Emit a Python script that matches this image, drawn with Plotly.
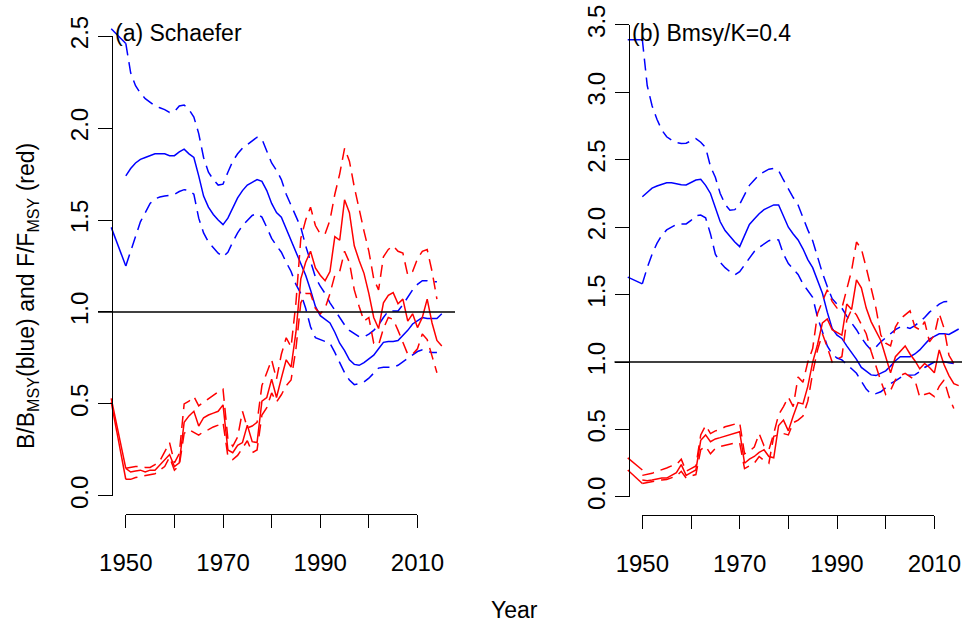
import plotly.graph_objects as go

# ---------------------------------------------------------------- data
years = list(range(1950, 2016))
lead_years = [1947, 1950]

# (a) Schaefer
b_mid_a = [1.74, 1.78, 1.81, 1.83, 1.84, 1.85, 1.86, 1.86, 1.86, 1.85,
           1.85, 1.87, 1.885, 1.86, 1.84, 1.74, 1.63, 1.57, 1.53, 1.50,
           1.475, 1.51, 1.57, 1.62, 1.66, 1.69, 1.705, 1.72, 1.71, 1.66,
           1.59, 1.54, 1.515, 1.45, 1.39, 1.33, 1.26, 1.20, 1.12, 1.03,
           0.98, 0.96, 0.94, 0.89, 0.83, 0.79, 0.74, 0.715, 0.71, 0.725,
           0.745, 0.765, 0.80, 0.835, 0.84, 0.84, 0.845, 0.87, 0.90, 0.935,
           0.955, 0.97, 0.965, 0.965, 0.965, 0.99]
b_hi_a = [2.46, 2.30, 2.23, 2.19, 2.16, 2.14, 2.12, 2.11, 2.10, 2.085,
          2.09, 2.12, 2.125, 2.10, 2.06, 1.97, 1.84, 1.76, 1.72, 1.69,
          1.695, 1.76, 1.82, 1.86, 1.89, 1.91, 1.93, 1.95, 1.94, 1.87,
          1.81, 1.77, 1.72, 1.64, 1.58, 1.51, 1.46, 1.36, 1.27, 1.19,
          1.14, 1.10, 1.05, 1.01, 0.97, 0.93, 0.90, 0.88, 0.865, 0.865,
          0.88, 0.90, 0.93, 0.97, 1.005, 1.005, 1.005, 1.04, 1.08, 1.12,
          1.15, 1.17, 1.17, 1.165, 1.165, None]
b_lo_a = [1.25, 1.33, 1.42, 1.49, 1.54, 1.59, 1.615, 1.625, 1.63, 1.633,
          1.64, 1.655, 1.665, 1.66, 1.64, 1.51, 1.43, 1.38, 1.35, 1.32,
          1.30, 1.325, 1.38, 1.43, 1.47, 1.50, 1.525, 1.534, 1.516, 1.46,
          1.40, 1.36, 1.325, 1.27, 1.22, 1.15, 1.10, 1.02, 0.92, 0.86,
          0.85, 0.84, 0.83, 0.78, 0.72, 0.67, 0.63, 0.605, 0.61, 0.62,
          0.64, 0.665, 0.695, 0.70, 0.70, 0.70, 0.71, 0.73, 0.75, 0.77,
          0.785, 0.795, 0.785, 0.78, 0.78, None]
f_mid_a = [0.15, 0.13, 0.135, 0.14, 0.13, 0.14, 0.14, 0.17, 0.195, 0.225,
           0.16, 0.18, 0.40, 0.435, 0.46, 0.38, 0.425, 0.44, 0.45, 0.46,
           0.495, 0.25, 0.235, 0.275, 0.29, 0.385, 0.295, 0.29, 0.515, 0.535,
           0.635, 0.535, 0.64, 0.74, 0.70, 0.89, 1.18, 1.27, 1.33, 1.24,
           1.20, 1.17, 1.22, 1.41, 1.39, 1.61, 1.54, 1.36, 1.28, 1.21,
           1.10, 0.97, 0.91, 1.05, 1.09, 1.105, 1.045, 1.07, 0.95, 0.99,
           0.915, 0.97, 1.07, 0.94, 0.845, 0.815]
f_hi_a = [0.15, 0.155, 0.16, 0.16, 0.155, 0.155, 0.17, 0.19, 0.24, 0.29,
          0.18, 0.23, 0.50, 0.515, 0.54, 0.49, 0.51, 0.53, 0.55, 0.565,
          0.58, 0.31, 0.27, 0.32, 0.46, 0.37, 0.38, 0.40, 0.60, 0.67,
          0.74, 0.635, 0.77, 0.86, 0.81, 1.05, 1.40, 1.50, 1.57, 1.47,
          1.425, 1.425, 1.50, 1.64, 1.75, 1.89, 1.82, 1.68, 1.55, 1.44,
          1.33, 1.18, 1.12, 1.30, 1.34, 1.36, 1.33, 1.32, 1.20, 1.22,
          1.29, 1.33, 1.34, 1.22, 1.07, None]
f_lo_a = [0.09, 0.09, 0.10, 0.105, 0.11, 0.115, 0.12, 0.14, 0.16, 0.21,
          0.14, 0.165, 0.34, 0.36, 0.345, 0.33, 0.35, 0.36, 0.375, 0.385,
          0.40, 0.215, 0.197, 0.22, 0.26, 0.30, 0.235, 0.25, 0.44, 0.48,
          0.56, 0.51, 0.55, 0.60, 0.63, 0.80, 1.05, 1.10, 1.10, 1.02,
          0.99, 1.02, 1.10, 1.20, 1.22, 1.33, 1.27, 1.12, 1.03, 0.95,
          0.97, 0.83, 0.82, 0.91, 0.97, 0.96, 0.90, 0.83, 0.77, 0.77,
          0.80, 0.88, 0.85, 0.76, 0.67, None]
b_lead_a = [1.46, 1.25]
b_hi_lead_a = [2.54, 2.46]
f_lead1_a = [0.53, 0.15]
f_lead2_a = [0.51, 0.09]

# (b) Bmsy/K=0.4
b_mid_b = [2.226, 2.26, 2.29, 2.305, 2.315, 2.33, 2.33, 2.32, 2.315, 2.313,
           2.33, 2.35, 2.355, 2.31, 2.25, 2.14, 2.04, 1.975, 1.93, 1.89,
           1.856, 1.94, 2.02, 2.06, 2.10, 2.13, 2.15, 2.165, 2.165, 2.08,
           2.00, 1.95, 1.905, 1.84, 1.76, 1.70, 1.61, 1.51, 1.37, 1.25,
           1.20, 1.175, 1.12, 1.07, 1.02, 0.96, 0.93, 0.905, 0.90, 0.915,
           0.935, 0.97, 1.01, 1.04, 1.04, 1.04, 1.06, 1.09, 1.13, 1.17,
           1.19, 1.21, 1.21, 1.205, 1.225, 1.245]
b_hi_b = [3.39, 3.05, 2.90, 2.80, 2.72, 2.67, 2.645, 2.627, 2.62, 2.622,
          2.64, 2.657, 2.63, 2.59, 2.45, 2.37, 2.25, 2.17, 2.126, 2.13,
          2.17, 2.24, 2.31, 2.35, 2.39, 2.41, 2.43, 2.436, 2.42, 2.35,
          2.28, 2.22, 2.164, 2.07, 1.98, 1.90, 1.78, 1.66, 1.56, 1.47,
          1.43, 1.40, 1.34, 1.29, 1.24, 1.18, 1.13, 1.09, 1.11, 1.15,
          1.18, 1.21, 1.24, 1.26, 1.26, 1.25, 1.27, 1.30, 1.33, 1.37,
          1.40, 1.43, 1.448, 1.45, None, None]
b_lo_b = [1.58, 1.70, 1.80, 1.88, 1.94, 1.98, 2.00, 2.02, 2.024, 2.024,
          2.05, 2.085, 2.09, 2.07, 1.95, 1.80, 1.74, 1.70, 1.67, 1.646,
          1.67, 1.72, 1.77, 1.82, 1.85, 1.875, 1.90, 1.91, 1.905, 1.80,
          1.73, 1.69, 1.65, 1.58, 1.53, 1.48, 1.33, 1.22, 1.12, 1.06,
          1.03, 1.016, 0.98, 0.95, 0.917, 0.86, 0.80, 0.764, 0.766, 0.78,
          0.81, 0.84, 0.86, 0.885, 0.90, 0.90, 0.905, 0.93, 0.96, 0.98,
          1.00, 1.005, 1.003, 0.995, 0.99, None]
f_mid_b = [0.126, 0.12, 0.125, 0.135, 0.14, 0.14, 0.16, 0.18, 0.24, 0.16,
           0.18, 0.20, 0.42, 0.46, 0.41, 0.43, 0.44, 0.45, 0.46, 0.47,
           0.484, 0.25, 0.28, 0.30, 0.33, 0.35, 0.30, 0.29, 0.53, 0.57,
           0.49, 0.60, 0.70, 0.69, 0.82, 1.00, 1.13, 1.29, 1.32, 1.24,
           1.22, 1.20, 1.43, 1.39, 1.61, 1.55, 1.40, 1.30, 1.23, 1.16,
           1.04, 0.92, 1.04, 1.08, 1.12, 1.06, 1.01, 0.95, 0.99, 0.96,
           0.92, 1.09, 0.98, 0.90, 0.84, 0.825]
f_hi_b = [0.16, 0.168, 0.175, 0.19, 0.20, 0.215, 0.23, 0.24, 0.28, 0.19,
          0.21, 0.23, 0.46, 0.53, 0.47, 0.49, 0.50, 0.52, 0.53, 0.54,
          0.55, 0.32, 0.34, 0.37, 0.47, 0.38, 0.35, 0.47, 0.61, 0.67,
          0.74, 0.67, 0.89, 0.85, 1.00, 1.10, 1.36, 1.45, 1.535, 1.45,
          1.40, 1.40, 1.55, 1.68, 1.89, 1.84, 1.70, 1.55, 1.40, 1.20,
          1.14, 1.12, 1.26, 1.32, 1.35, 1.38, 1.26, 1.24, 1.30, 1.15,
          1.20, 1.36, 1.25, 1.05, 0.99, None]
f_lo_b = [0.10, 0.107, 0.115, 0.121, 0.126, 0.13, 0.14, 0.155, 0.19, 0.14,
          0.155, 0.166, 0.35, 0.375, 0.32, 0.36, 0.375, 0.385, 0.39, 0.40,
          0.40, 0.21, 0.23, 0.25, 0.30, 0.27, 0.25, 0.45, 0.46, 0.47,
          0.46, 0.55, 0.57, 0.60, 0.71, 0.92, 1.09, 1.21, 1.11, 1.00,
          1.02, 1.04, 1.31, 1.39, 1.35, 1.28, 1.21, 1.08, 0.966, 0.86,
          0.76, 0.79, 0.87, 0.90, 0.917, 0.89, 0.867, 0.74, 0.76, 0.77,
          0.744, 0.82, 0.867, 0.744, 0.656, None]
b_lead_b = [1.63, 1.58]
b_hi_lead_b = [3.39, 3.39]
f_lead1_b = [0.29, 0.20]
f_lead2_b = [0.20, 0.10]

x_ticks = [1950, 1960, 1970, 1980, 1990, 2000, 2010]
x_label_ticks = [1950, 1970, 1990, 2010]
y_ticks_a = [0.0, 0.5, 1.0, 1.5, 2.0, 2.5]
y_ticks_b = [0.0, 0.5, 1.0, 1.5, 2.0, 2.5, 3.0, 3.5]

# ---------------------------------------------------------------- geometry
W, H = 962, 625
FONT = "Liberation Sans, Arial, sans-serif"
BLUE, RED = "#0000FF", "#FF0000"
LW = 1.5
DASH = "12px,7px"

panels = [
    dict(title="(a) Schaefer",
         px=(98.0, 455.0), xr=(1944.28, 2017.72),
         py=(514.3, 17.7), yr=(-0.1, 2.6), yaxis_at=1947.1, yt=y_ticks_a,
         b=(b_mid_a, b_hi_a, b_lo_a, b_lead_a, b_hi_lead_a),
         f=(f_mid_a, f_hi_a, f_lo_a, f_lead1_a, f_lead2_a)),
    dict(title="(b) Bmsy/K=0.4",
         px=(614.5, 962.0), xr=(1944.28, 2015.68),
         py=(515.3, 20.0), yr=(-0.136, 3.536), yaxis_at=1947.27, yt=y_ticks_b,
         b=(b_mid_b, b_hi_b, b_lo_b, b_lead_b, b_hi_lead_b),
         f=(f_mid_b, f_hi_b, f_lo_b, f_lead1_b, f_lead2_b)),
]


def ax_id(n):
    return "" if n == 1 else str(n)


fig = go.Figure()
layout = dict(width=W, height=H, autosize=False,
              margin=dict(l=0, r=0, t=0, b=0, pad=0, autoexpand=False),
              paper_bgcolor="white", plot_bgcolor="rgba(0,0,0,0)",
              showlegend=False, font=dict(family=FONT, color="black"))
shapes, annotations = [], []


def line(x, y, color, dash, xa, ya):
    fig.add_trace(go.Scatter(x=x, y=y, mode="lines", xaxis=xa, yaxis=ya,
                             line=dict(color=color, width=LW, dash=dash),
                             connectgaps=False, hoverinfo="skip"))


for i, p in enumerate(panels):
    k = 2 * i + 1
    xa, ya = "x" + ax_id(k), "y" + ax_id(k)
    xd, yd = "x" + ax_id(k + 1), "y" + ax_id(k + 1)
    x0p, x1p = p["px"]
    yb, yt = p["py"]
    xr, yr = p["xr"], p["yr"]

    def xpix(v):
        return x0p + (v - xr[0]) * (x1p - x0p) / (xr[1] - xr[0])

    def ypix(v):
        return yb - (v - yr[0]) * (yb - yt) / (yr[1] - yr[0])

    # data axes (hidden)
    layout["xaxis" + ax_id(k)] = dict(domain=[x0p / W, x1p / W], range=list(xr),
                                      anchor=ya, visible=False, fixedrange=True,
                                      automargin=False)
    layout["yaxis" + ax_id(k)] = dict(domain=[(H - yb) / H, (H - yt) / H],
                                      range=list(yr), anchor=xa, visible=False,
                                      fixedrange=True, automargin=False)

    # drawn axes: the line only spans the tick range
    tx0, tx1 = xpix(x_ticks[0]), xpix(x_ticks[-1])
    ty0, ty1 = ypix(p["yt"][0]), ypix(p["yt"][-1])
    layout["xaxis" + ax_id(k + 1)] = dict(
        domain=[tx0 / W, tx1 / W], range=[x_ticks[0], x_ticks[-1]],
        anchor="free", position=(H - yb) / H, fixedrange=True, automargin=False,
        showline=True, linecolor="black", linewidth=1.3, showgrid=False,
        zeroline=False, ticks="outside", ticklen=13, tickwidth=1.3,
        tickcolor="black", tickmode="array", tickvals=x_label_ticks,
        ticktext=[str(v) for v in x_label_ticks],
        minor=dict(tickmode="array", tickvals=x_ticks, ticks="outside",
                   ticklen=13, tickwidth=1.3, tickcolor="black", showgrid=False),
        tickfont=dict(size=24, family=FONT), ticklabelstandoff=14)
    layout["yaxis" + ax_id(k + 1)] = dict(
        domain=[(H - ty0) / H, (H - ty1) / H], range=[p["yt"][0], p["yt"][-1]],
        anchor="free", position=xpix(p["yaxis_at"]) / W, fixedrange=True,
        automargin=False,
        showline=True, linecolor="black", linewidth=1.3, showgrid=False,
        zeroline=False, ticks="outside", ticklen=14, tickwidth=1.3,
        tickcolor="black", tickmode="array", tickvals=p["yt"],
        ticktext=[f"{v:.1f}" for v in p["yt"]], tickangle=-90,
        tickfont=dict(size=24, family=FONT), ticklabelstandoff=0)
    fig.add_trace(go.Scatter(x=[None], y=[None], xaxis=xd, yaxis=yd,
                             mode="lines", hoverinfo="skip"))

    # reference line at 1
    shapes.append(dict(type="line", xref=xa + " domain", yref=ya,
                       x0=0, x1=1, y0=1, y1=1,
                       line=dict(color="black", width=1.5)))

    b_mid, b_hi, b_lo, b_lead, b_hi_lead = p["b"]
    f_mid, f_hi, f_lo, f_lead1, f_lead2 = p["f"]

    line(lead_years, b_lead, BLUE, "solid", xa, ya)
    line(lead_years, b_hi_lead, BLUE, "solid", xa, ya)
    line(years, b_hi, BLUE, DASH, xa, ya)
    line(years, b_lo, BLUE, DASH, xa, ya)
    line(years, b_mid, BLUE, "solid", xa, ya)

    line(lead_years, f_lead1, RED, "solid", xa, ya)
    line(lead_years, f_lead2, RED, "solid", xa, ya)
    line(years, f_hi, RED, DASH, xa, ya)
    line(years, f_lo, RED, DASH, xa, ya)
    line(years, f_mid, RED, "solid", xa, ya)

    annotations.append(dict(text=p["title"], xref="paper", yref="paper",
                            x=(xpix(p["yaxis_at"]) + 1) / W, y=(H - 33) / H,
                            xanchor="left", yanchor="middle", showarrow=False,
                            font=dict(size=23, family=FONT)))

annotations.append(dict(text="B/B<sub>MSY</sub>(blue) and F/F<sub>MSY</sub> (red)",
                        xref="paper", yref="paper", x=27 / W, y=(H - 296) / H,
                        textangle=-90, xanchor="center", yanchor="middle",
                        showarrow=False, font=dict(size=23, family=FONT)))
annotations.append(dict(text="Year", xref="paper", yref="paper",
                        x=514 / W, y=(H - 610) / H, xanchor="center",
                        yanchor="middle", showarrow=False,
                        font=dict(size=23, family=FONT)))

layout["shapes"] = shapes
layout["annotations"] = annotations
fig.update_layout(**layout)
fig.write_html("out.html")
